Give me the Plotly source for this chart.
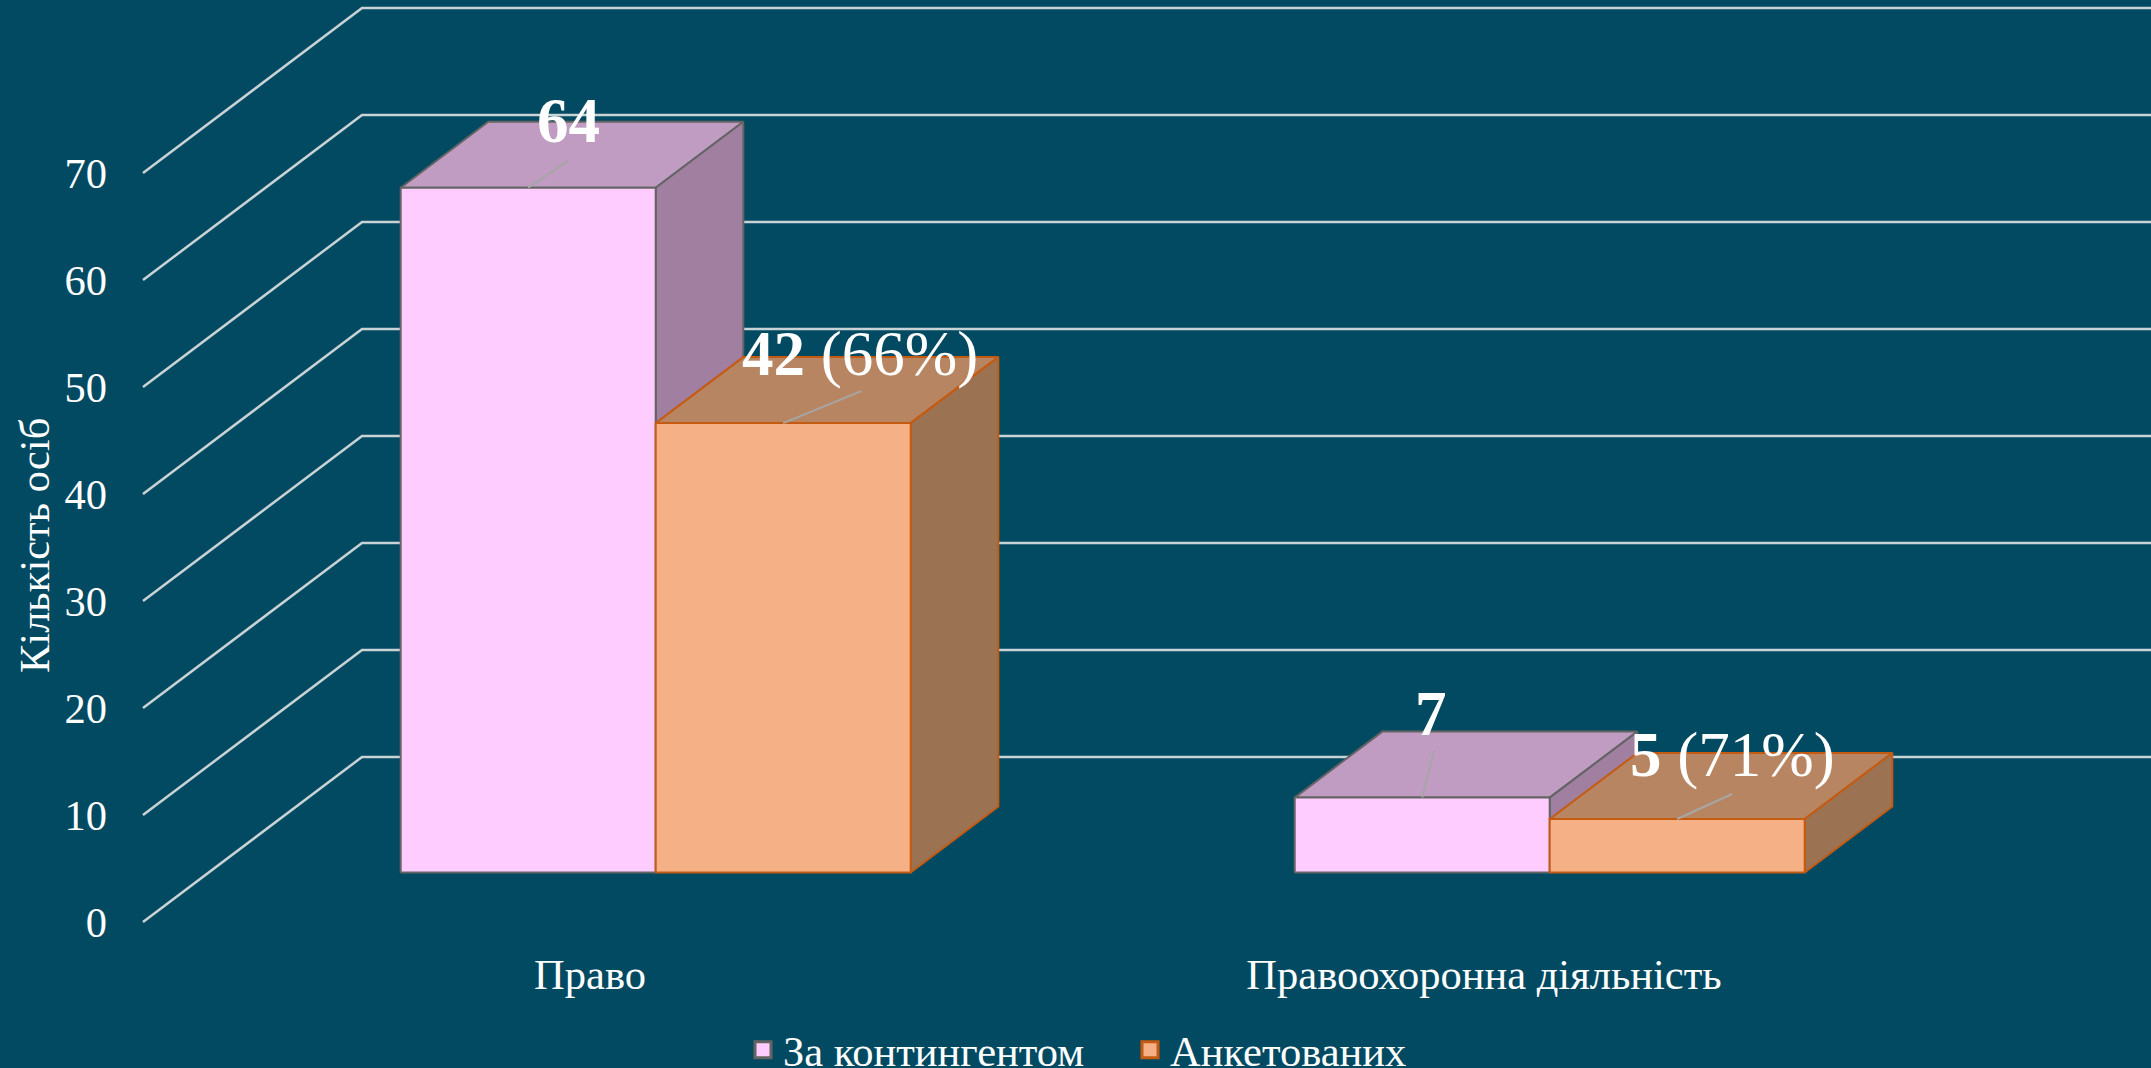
import plotly.graph_objects as go

# data
categories = ['Право', 'Правоохоронна діяльність']
series_names = ['За контингентом', 'Анкетованих']
contingent = [64, 7]
surveyed = [42, 5]
surveyed_pct = ['66%', '71%']
y_ticks = [0, 10, 20, 30, 40, 50, 60, 70]

# =============================================================================
# layout constants (pixels of the 2151x1068 page)
# =============================================================================
W, H = 2151, 1068
PLOT_L, PLOT_B = 115, 945
X0_PX, X_UNIT = 590, 894      # category 0 on the front plane, px per category
Y0_PX, Y_UNIT = 922, 10.7     # value 0 on the front plane, px per value

# oblique projection, full depth of the floor
DEPTH_X = 219 / X_UNIT
DEPTH_Y = 165 / Y_UNIT
BAR_W = 255 / X_UNIT
D_FRONT, D_BACK = 0.3, 0.7

BG = '#024A62'
GRID = '#C9D3D6'
TEXT = 'white'
FONT = 'Liberation Serif'
AXIS_SIZE = 42.5
colors = [
    dict(front='#FFCCFF', top='#C09BC2', side='#A07FA0', edge='#646464'),
    dict(front='#F5B185', top='#B88562', side='#9C7352', edge='#C55A11'),
]

def project(x, value, depth):
    return x + depth * DEPTH_X, value + depth * DEPTH_Y

def poly(points):
    return [p[0] for p in points] + [points[0][0]], [p[1] for p in points] + [points[0][1]]

fig = go.Figure()

# gridlines run from the front plane back and then along the back wall
x_right = (W - X0_PX) / X_UNIT
for tick in y_ticks:
    pts = [project(-0.5, tick, 0), project(-0.5, tick, 1), (x_right, tick + DEPTH_Y)]
    fig.add_trace(go.Scatter(x=[p[0] for p in pts], y=[p[1] for p in pts], mode='lines',
                             line=dict(color=GRID, width=2.5), showlegend=False, hoverinfo='skip'))

def add_face(points, fill, edge):
    xs, ys = poly(points)
    fig.add_trace(go.Scatter(x=xs, y=ys, mode='lines', fill='toself', fillcolor=fill,
                             line=dict(color=edge, width=2), showlegend=False, hoverinfo='skip'))

# bars, back to front, left series first
for i, cat in enumerate(categories):
    for s, values in enumerate([contingent, surveyed]):
        left = i - BAR_W + s * BAR_W
        right = left + BAR_W
        v = values[i]
        c = colors[s]
        add_face([project(left, v, D_FRONT), project(right, v, D_FRONT),
                  project(right, v, D_BACK), project(left, v, D_BACK)], c['top'], c['edge'])
        add_face([project(right, 0, D_FRONT), project(right, 0, D_BACK),
                  project(right, v, D_BACK), project(right, v, D_FRONT)], c['side'], c['edge'])
        add_face([project(left, 0, D_FRONT), project(right, 0, D_FRONT),
                  project(right, v, D_FRONT), project(left, v, D_FRONT)], c['front'], c['edge'])

# legend entries
for s, name in enumerate(series_names):
    fig.add_trace(go.Scatter(x=[None], y=[None], mode='markers', name=name,
                             marker=dict(symbol='square', size=16, color=colors[s]['front'],
                                         line=dict(color=colors[s]['edge'], width=3))))

# data labels with their leader lines, offsets in px from the middle of the bar's top edge
label_text = [
    '<b>%d</b>' % contingent[0],
    '<b>%d</b> (%s)' % (surveyed[0], surveyed_pct[0]),
    '<b>%d</b>' % contingent[1],
    '<b>%d</b> (%s)' % (surveyed[1], surveyed_pct[1]),
]
label_cat = [0, 0, 1, 1]
label_series = [0, 1, 0, 1]
label_dx = [40, 77, 9, 55]
label_dy = [67, 69, 84, 64]
leader_dx = [40, 78, 12, 55]
leader_dy = [27, 32, 47, 25]

annotations = []
for k, txt in enumerate(label_text):
    i, s = label_cat[k], label_series[k]
    v = [contingent, surveyed][s][i]
    mid = i - BAR_W / 2 + s * BAR_W
    x, y = project(mid, v, D_FRONT)
    fig.add_trace(go.Scatter(x=[x, x + leader_dx[k] / X_UNIT], y=[y, y + leader_dy[k] / Y_UNIT], mode='lines',
                             line=dict(color='#A6A6A6', width=2), showlegend=False, hoverinfo='skip'))
    annotations.append(dict(x=x, y=y, xref='x', yref='y', text=txt, showarrow=False,
                            xshift=label_dx[k], yshift=label_dy[k],
                            font=dict(family=FONT, size=63, color=TEXT)))

# y axis title, placed by hand because it is not centred on the plot area
annotations.append(dict(x=(34 - PLOT_L) / (W - PLOT_L), y=(PLOT_B - 546) / PLOT_B,
                        xref='paper', yref='paper', xanchor='center', yanchor='middle',
                        text='Кількість осіб', textangle=-90, showarrow=False,
                        font=dict(family=FONT, size=AXIS_SIZE, color=TEXT)))

fig.update_layout(
    width=W, height=H,
    paper_bgcolor=BG, plot_bgcolor=BG,
    margin=dict(l=PLOT_L, r=0, t=0, b=H - PLOT_B, autoexpand=False),
    font=dict(family=FONT, color=TEXT, size=AXIS_SIZE),
    annotations=annotations,
    legend=dict(orientation='h', x=(1130 - PLOT_L) / (W - PLOT_L), xanchor='center',
                y=(PLOT_B - 1050) / PLOT_B, yanchor='middle',
                entrywidth=342, entrywidthmode='pixels',
                font=dict(family=FONT, size=AXIS_SIZE, color=TEXT), bgcolor='rgba(0,0,0,0)'),
    xaxis=dict(range=[(PLOT_L - X0_PX) / X_UNIT, x_right],
               tickmode='array', tickvals=[0, 1], ticktext=categories,
               showgrid=False, zeroline=False, showline=False, ticks='',
               tickfont=dict(family=FONT, size=AXIS_SIZE, color=TEXT)),
    yaxis=dict(range=[(Y0_PX - PLOT_B) / Y_UNIT, Y0_PX / Y_UNIT],
               tickmode='array', tickvals=y_ticks, ticklabelstandoff=7,
               showgrid=False, zeroline=False, showline=False, ticks='',
               tickfont=dict(family=FONT, size=AXIS_SIZE, color=TEXT)),
)

fig.write_html("out.html", config=dict(displayModeBar=False),
               post_script="document.body.style.margin='0';")
